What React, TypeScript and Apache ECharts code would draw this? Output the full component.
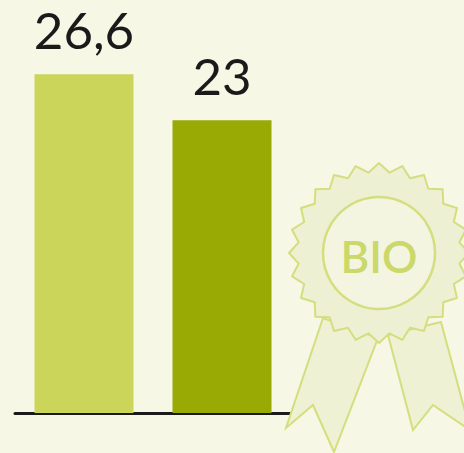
import React, { useEffect, useRef } from "react";
import * as echarts from "echarts";

const categories = ["A", "B"];
const values = [26.6, 23];
const barColors = ["#cbd55a", "#99aa05"];

function rosettePoints(cx: number, cy: number, rOut: number, rIn: number, n: number) {
  const pts: number[][] = [];
  for (let i = 0; i < n * 2; i++) {
    const a = (Math.PI * i) / n - Math.PI / 2;
    const r = i % 2 === 0 ? rOut : rIn;
    pts.push([cx + r * Math.cos(a), cy + r * Math.sin(a)]);
  }
  return pts;
}

export default function App() {
  const ref = useRef<HTMLDivElement>(null);
  useEffect(() => {
    const chart = echarts.init(ref.current!, null, { renderer: "svg" });
    const stroke = "#d3df7e";
    const fill = "#eef1d3";
    chart.setOption({
      animation: false,
      backgroundColor: "#f6f7e4",
      grid: { left: 15, right: 173, top: 31, bottom: 40 },
      xAxis: {
        type: "category",
        data: categories,
        axisLine: { lineStyle: { color: "#1a1a1a", width: 3 } },
        axisTick: { show: false },
        axisLabel: { show: false },
      },
      yAxis: { type: "value", min: 0, max: 30, show: false, splitLine: { show: false } },
      series: [
        {
          type: "bar",
          barWidth: 99,
          data: values.map((v, i) => ({ value: v, itemStyle: { color: barColors[i] } })),
          label: {
            show: true,
            position: "top",
            distance: 19,
            fontFamily: "Lato",
            fontSize: 51,
            color: "#1a1a1a",
            formatter: (p: any) => String(p.value).replace(".", ","),
          },
          z: 2,
        },
      ],
      graphic: [
        {
          type: "polygon",
          z: 1,
          shape: { points: [[323, 318], [378, 338], [334, 452], [313, 405], [286, 428]] },
          style: { fill, stroke, lineWidth: 2 },
        },
        {
          type: "polygon",
          z: 1,
          shape: { points: [[388, 335], [441, 322], [470, 430], [433, 405], [413, 430]] },
          style: { fill, stroke, lineWidth: 2 },
        },
        {
          type: "polygon",
          z: 3,
          shape: { points: rosettePoints(379, 253, 90, 81, 24) },
          style: { fill: "#edf0d2", stroke, lineWidth: 2, lineJoin: "round" },
        },
        {
          type: "circle",
          z: 4,
          shape: { cx: 379, cy: 253, r: 56 },
          style: { fill: "#f3f5e0", stroke, lineWidth: 2.5 },
        },
        {
          type: "text",
          z: 5,
          x: 379,
          y: 256,
          style: {
            text: "BIO",
            fill: "#cbd86a",
            font: "600 44px Lato",
            align: "center",
            verticalAlign: "middle",
          },
        },
      ],
    });
    return () => chart.dispose();
  }, []);
  return (
    <div
      ref={ref}
      style={{ position: "fixed", left: 0, top: 0, width: 464, height: 453, background: "#f6f7e4" }}
    />
  );
}
